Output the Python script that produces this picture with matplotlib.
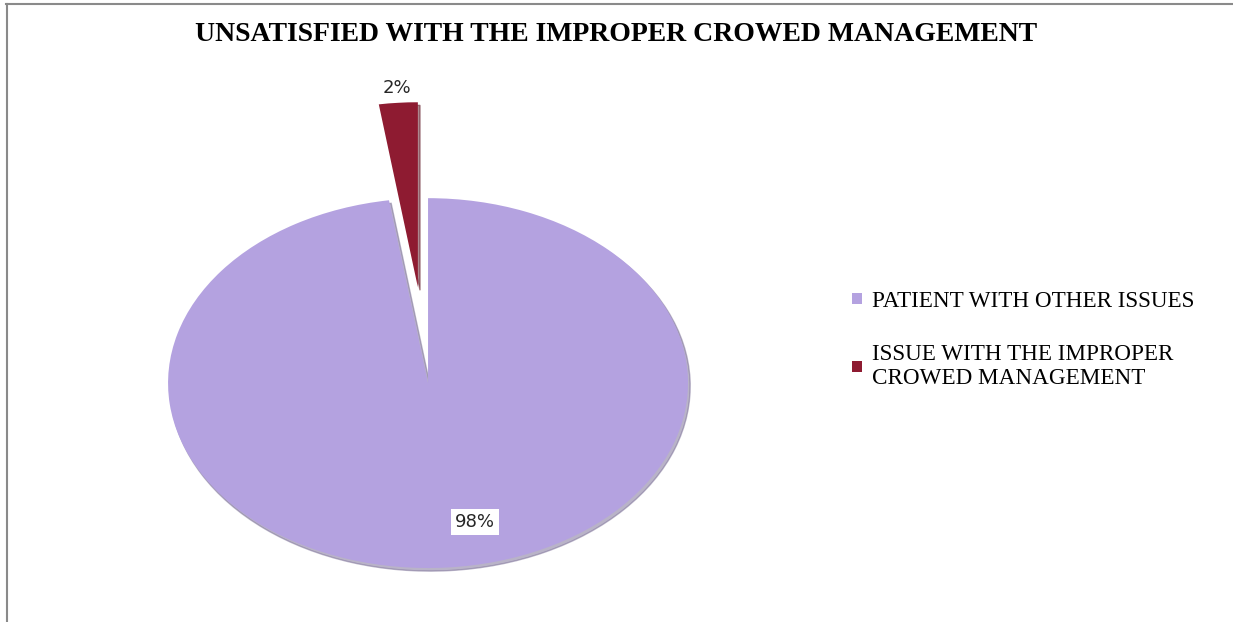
import matplotlib.pyplot as plt
from matplotlib.lines import Line2D

# data
labels = ['PATIENT WITH OTHER ISSUES', 'ISSUE WITH THE IMPROPER\nCROWED MANAGEMENT']
values = [97.6, 2.4]
colors = ['#B4A2E0', '#8E1B31']
explode = [0, 0.52]

fig = plt.figure(figsize=(12.33, 6.22), dpi=100)

# axes box sized so the pie becomes a flattened ellipse
ax = fig.add_axes([0.1363, 0.0868, 0.4217, 0.773])
wedges, texts, autotexts = ax.pie(values, colors=colors, explode=explode,
                                  startangle=90, counterclock=False,
                                  autopct='%1.0f%%', pctdistance=1.08,
                                  wedgeprops=dict(edgecolor='none'),
                                  shadow={'ox': 0.006, 'oy': -0.012, 'shade': 0.35},
                                  textprops=dict(fontsize=13, color='#262626', family='DejaVu Sans'))
ax.set_aspect('auto')
ax.set_xlim(-1, 1)
ax.set_ylim(-1, 1.6)
ax.axis('off')

# Excel puts the big label lower right inside the slice
autotexts[0].set_position((0.18, -0.75))
autotexts[0].set_bbox(dict(facecolor='white', edgecolor='none', pad=3))
autotexts[1].set_va('center')

fig.text(0.5, 0.945, 'UNSATISFIED WITH THE IMPROPER CROWED MANAGEMENT',
         ha='center', va='center', fontsize=20, fontweight='bold',
         family='Liberation Serif', color='black')

fig.legend(wedges, labels, loc='upper left', bbox_to_anchor=(0.674, 0.566),
           frameon=False, prop=dict(family='Liberation Serif', size=16.7),
           handlelength=0.45, handleheight=0.35, handletextpad=0.43,
           labelspacing=1.4)

# chart area border (top and left only visible)
fig.add_artist(Line2D([6 / 1233, 1], [1 - 4 / 622, 1 - 4 / 622], color='#8a8a8a', lw=1.5))
fig.add_artist(Line2D([7 / 1233, 7 / 1233], [0, 1 - 4 / 622], color='#8a8a8a', lw=1.5))

fig.savefig('out.png', dpi=100)
